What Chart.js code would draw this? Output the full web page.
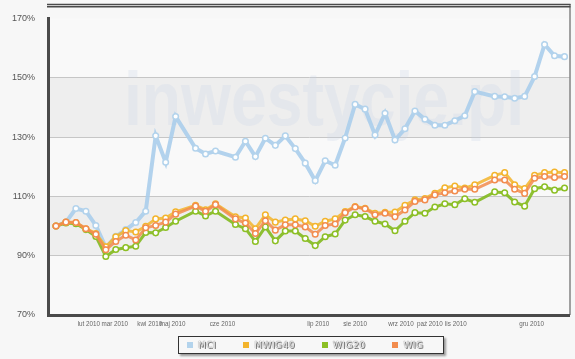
<!DOCTYPE html>
<html>
<head>
<meta charset="utf-8">
<script src="https://cdn.jsdelivr.net/npm/chart.js@4.4.1/dist/chart.umd.min.js"></script>
<style>
  html, body { margin: 0; padding: 0; background: #f7f7f7; }
  #wrap { position: relative; width: 575px; height: 359px; }
  #legend {
    position: absolute; left: 178px; top: 336px; width: 266px; height: 18px;
    border: 1px solid #333; background: #f7f7f7; box-shadow: 2px 2px 2px #999;
    display: flex; align-items: center; padding-left: 8px; box-sizing: border-box;
    font: 9px "DejaVu Sans", sans-serif; letter-spacing: 0.5px;
  }
  #legend .item { display: flex; align-items: center; margin-right: 27px; }
  #legend .sw { width: 6px; height: 6px; margin-right: 5px; }
  #legend .txt { color: #f4f4f4; text-shadow: 0 0 1px #222, 1px 1px 0 #777; }
</style>
</head>
<body>
<div id="wrap">
  <canvas id="chart" width="575" height="359"></canvas>
  <div id="legend"></div>
</div>
<script>
// weekly points, null = no quote that week
var mci = [100, 101.3, 105.9, 105.0, 100.2, 92.7, 96.5, 98.8, 101.2, 105.0,
  130.4, 121.5, 136.9, null, 126.2, 124.3, 125.3, null, 123.2, 128.6,
  123.4, 129.6, 127.2, 130.4, 126.1, 121.2, 115.3, 122.0, 120.5, 129.7,
  141.0, 139.4, 130.7, 138.0, 129.0, 132.8, 138.8, 136.0, 134.0, 134.0,
  135.5, 137.2, 145.3, null, 143.7, 143.6, 143.1, 143.7, 150.4, 161.2,
  157.4, 157.1]
var mwig40 = [100, 101.3, 101.2, 99.1, 97.5, 93.0, 96.4, 98.5, 98.0, 99.9,
  102.4, 102.7, 104.8, null, 107.0, 105.5, 107.5, null, 103.1, 102.7,
  99.1, 103.8, 101.3, 102.0, 102.4, 101.8, 99.9, 101.6, 102.4, 104.9,
  106.6, 106.0, 104.3, 104.6, 104.7, 107.0, 108.8, 109.3, 111.0, 112.9,
  113.5, 112.8, 113.9, null, 117.1, 118.0, 113.9, 112.6, 117.1, 118.0,
  118.2, 118.0]
var wig20 = [100, 101.0, 100.8, 98.8, 96.5, 89.7, 92.1, 92.7, 93.2, 97.8,
  97.7, 99.5, 101.6, null, 105.0, 103.4, 105.0, null, 100.5, 99.1,
  94.8, 99.7, 95.0, 98.3, 98.3, 95.8, 93.4, 96.4, 97.3, 102.0,
  103.8, 103.2, 101.6, 100.7, 98.4, 101.6, 104.5, 104.3, 106.4, 107.5,
  107.2, 109.2, 108.0, null, 111.5, 111.2, 108.1, 106.7, 112.6, 113.2,
  112.1, 112.8]
var wig = [100, 101.3, 101.2, 99.1, 97.2, 92.0, 94.8, 96.9, 95.3, 99.4,
  100.2, 101.3, 104.0, null, 106.7, 105.0, 107.2, null, 102.4, 101.0,
  97.5, 101.8, 98.6, 100.4, 100.4, 99.7, 97.2, 100.2, 100.7, 104.5,
  106.4, 105.8, 103.8, 104.3, 103.1, 105.4, 108.3, 108.8, 110.5, 111.2,
  111.8, 112.4, 112.4, null, 115.5, 115.5, 112.4, 111.0, 116.1, 116.7,
  116.4, 116.7]

// month labels and the week index they sit on
var monthLabels = ['lut 2010', 'mar 2010', 'kwi 2010', 'maj 2010', 'cze 2010', 'lip 2010',
  'sie 2010', 'wrz 2010', 'paź 2010', 'lis 2010', 'gru 2010']
var monthWeeks = [3.3, 5.9, 9.4, 11.7, 16.7, 26.3, 30.0, 34.6, 37.5, 40.1, 47.7]

var yTicks = [70, 90, 110, 130, 150, 170]

function toPoints(arr) {
  return arr.map((v, i) => ({ x: i, y: v }))
}

function series(label, values, color, line, width, order) {
  return {
    label: label,
    data: toPoints(values),
    borderColor: line,
    backgroundColor: color,
    borderWidth: width,
    pointRadius: 2.8,
    pointBackgroundColor: '#ffffff',
    pointBorderColor: color,
    pointBorderWidth: 1.5,
    tension: 0,
    order: order,
  }
}

var bandsPlugin = {
  id: 'bands',
  beforeDraw(chart) {
    var ctx = chart.ctx, a = chart.chartArea, y = chart.scales.y
    ctx.save()
    ctx.fillStyle = '#f9f9f9'
    ctx.fillRect(a.left, a.top, a.right - a.left, a.bottom - a.top)
    ctx.fillStyle = '#eeeeee'
    ;[[130, 150], [90, 110]].forEach((b) => {
      var t = y.getPixelForValue(b[1]), btm = y.getPixelForValue(b[0])
      ctx.fillRect(a.left, t, a.right - a.left, btm - t)
    })
    ctx.restore()
  },
  beforeDatasetsDraw(chart) {
    var ctx = chart.ctx
    ctx.save()
    ctx.fillStyle = 'rgba(200, 210, 232, 0.25)'
    ctx.font = 'bold 76px "Liberation Sans", Arial, sans-serif'
    ctx.textBaseline = 'alphabetic'
    ctx.fillText('inwestycje.pl', 124, 125, 400)
    ctx.restore()
  },
  afterDraw(chart) {
    var ctx = chart.ctx, a = chart.chartArea
    ctx.save()
    ctx.strokeStyle = '#4a4a4a'
    ctx.lineWidth = 1.5
    ctx.beginPath()
    ctx.moveTo(a.left - 1, 4.5); ctx.lineTo(a.right + 1, 4.5)
    ctx.moveTo(a.left - 1, 6.8); ctx.lineTo(a.right + 1, 6.8)
    ctx.stroke()
    ctx.lineWidth = 1
    ctx.beginPath()
    ctx.moveTo(a.right + 0.5, 4); ctx.lineTo(a.right + 0.5, a.bottom)
    ctx.stroke()
    ctx.restore()
  }
}

var chart = new Chart(document.getElementById('chart'), {
  type: 'line',
  data: {
    datasets: [
      series('MCI', mci, '#b3d3ec', 'rgba(170,205,235,0.9)', 4, 4),
      series('MWIG40', mwig40, '#f3b42c', 'rgba(243,180,44,0.85)', 3, 2),
      series('WIG20', wig20, '#8cbf24', 'rgba(130,185,30,0.9)', 3, 3),
      series('WIG', wig, '#f28c4e', 'rgba(242,140,78,0.85)', 3, 1),
    ],
  },
  options: {
    responsive: false,
    animation: false,
    spanGaps: true,
    layout: { padding: { top: 6, right: 4, left: 0, bottom: 0 } },
    plugins: { legend: { display: false }, tooltip: { enabled: false } },
    scales: {
      x: {
        type: 'linear',
        min: -0.8,
        max: 51.5,
        afterFit: (s) => { s.height = 44 },
        afterBuildTicks: (s) => { s.ticks = monthWeeks.map((v) => ({ value: v })) },
        grid: { display: false, drawTicks: false },
        border: { color: '#4a4a4a', width: 3 },
        ticks: {
          autoSkip: false, maxRotation: 0, padding: 5,
          color: '#666', font: { family: '"Liberation Sans", Arial, sans-serif', size: 6.3 },
          callback: (v) => monthLabels[monthWeeks.indexOf(v)],
        },
      },
      y: {
        min: 70,
        max: 170,
        afterFit: (s) => { s.width = 48 },
        afterBuildTicks: (s) => { s.ticks = yTicks.map((v) => ({ value: v })) },
        grid: {
          drawTicks: false, lineWidth: 1,
          color: (c) => (c.tick.value === 70 || c.tick.value === 170) ? 'rgba(0,0,0,0)' : '#c6c6c6',
        },
        border: { color: '#4a4a4a', width: 3 },
        ticks: {
          padding: 13,
          color: '#555', font: { family: '"Liberation Sans", Arial', size: 9 },
          callback: (v) => v + '%',
        },
      },
    },
  },
  plugins: [bandsPlugin],
})

// legend under the plot
var legend = document.getElementById('legend')
chart.data.datasets.forEach((ds) => {
  var item = document.createElement('div')
  item.className = 'item'
  item.innerHTML = '<span class="sw" style="background:' + ds.backgroundColor + '"></span><span class="txt">' + ds.label + '</span>'
  legend.appendChild(item)
})
</script>
</body>
</html>
